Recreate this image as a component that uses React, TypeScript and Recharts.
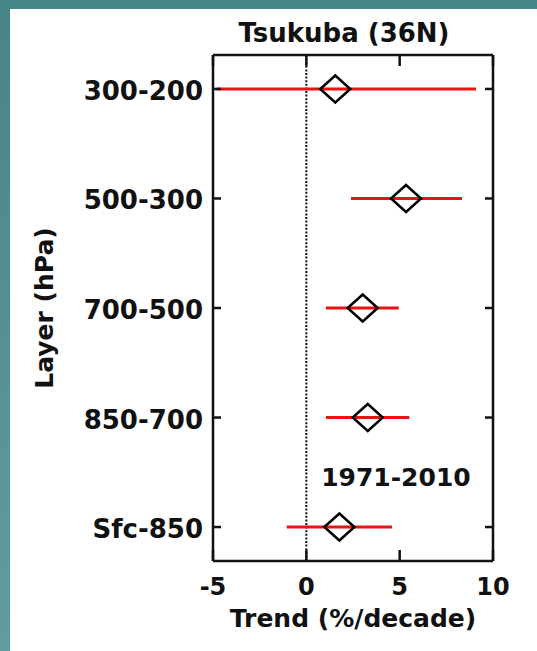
import React from 'react';
import {
  ScatterChart,
  Scatter,
  XAxis,
  YAxis,
  ErrorBar,
  ReferenceLine,
  ReferenceDot,
} from 'recharts';

// layers from top to bottom
const layers = ['300-200', '500-300', '700-500', '850-700', 'Sfc-850'];
const trend = [1.55, 5.34, 3.02, 3.29, 1.77];
const lower = [-4.8, 2.39, 1.05, 1.05, -1.05];
const upper = [9.09, 8.34, 4.95, 5.52, 4.59];
const xTicks = [-5, 0, 5, 10];
const yTicks = [1, 2, 3, 4, 5];

const FONT = '"DejaVu Sans", sans-serif';

const data = layers.map((name, i) => ({
  name,
  y: i + 1,
  x: trend[i],
  err: [trend[i] - lower[i], upper[i] - trend[i]],
}));

const LeftTick = (props: any) => {
  const { x, y, payload } = props;
  return (
    <text x={x} y={y + 11} textAnchor="end" fontSize={26} fontWeight="bold" fontFamily={FONT} fill="#111">
      {layers[payload.value - 1]}
    </text>
  );
};

const BottomTick = (props: any) => {
  const { x, y, payload } = props;
  return (
    <text x={x} y={y + 34} textAnchor="middle" fontSize={24} fontWeight="bold" fontFamily={FONT} fill="#111">
      {payload.value}
    </text>
  );
};

const NoTick = () => <g />;

const Diamond = (props: any) => {
  const { cx, cy } = props;
  const w = 15;
  const h = 13.5;
  return (
    <polygon
      points={`${cx - w},${cy} ${cx},${cy - h} ${cx + w},${cy} ${cx},${cy + h}`}
      fill="none"
      stroke="#000"
      strokeWidth={2.5}
    />
  );
};

const axisLine = { stroke: '#111', strokeWidth: 2.5 };
const tickLine = { stroke: '#111', strokeWidth: 2.5 };

export default function App() {
  return (
    <div
      style={{
        position: 'absolute',
        left: 0,
        top: 0,
        width: 537,
        height: 651,
        background: 'linear-gradient(#468585, #5e9e9e)',
      }}
    >
      <div style={{ position: 'absolute', left: 10, top: 9, right: 0, bottom: 0, background: '#fff' }} />
      <div style={{ position: 'absolute', left: 0, top: 0 }}>
        <ScatterChart width={537} height={651} margin={{ top: 0, right: 0, bottom: 0, left: 0 }}>
          <XAxis
            xAxisId="b"
            type="number"
            dataKey="x"
            domain={[-5, 10]}
            ticks={xTicks}
            allowDataOverflow
            height={90}
            axisLine={axisLine}
            tickLine={tickLine}
            tickSize={-11}
            tickMargin={11}
            tick={<BottomTick />}
            label={{
              content: ({ viewBox }: any) => (
                <text
                  x={viewBox.x + viewBox.width / 2}
                  y={viewBox.y + 66}
                  textAnchor="middle"
                  fontSize={25}
                  fontWeight="bold"
                  fontFamily={FONT}
                  fill="#111"
                >
                  Trend (%/decade)
                </text>
              ),
            }}
          />
          <XAxis
            xAxisId="t"
            orientation="top"
            type="number"
            dataKey="x"
            domain={[-5, 10]}
            ticks={xTicks}
            allowDataOverflow
            height={55}
            axisLine={axisLine}
            tickLine={tickLine}
            tickSize={-11}
            tickMargin={0}
            tick={<NoTick />}
            label={{
              content: ({ viewBox }: any) => (
                <text
                  x={viewBox.x + viewBox.width / 2 - 9}
                  y={42}
                  textAnchor="middle"
                  fontSize={26}
                  fontWeight="bold"
                  fontFamily={FONT}
                  fill="#111"
                >
                  Tsukuba (36N)
                </text>
              ),
            }}
          />
          <YAxis
            yAxisId="l"
            type="number"
            dataKey="y"
            domain={[0.69, 5.31]}
            ticks={yTicks}
            reversed
            allowDataOverflow
            width={213}
            axisLine={axisLine}
            tickLine={tickLine}
            tickSize={-8}
            tickMargin={18}
            tick={<LeftTick />}
            label={{
              content: ({ viewBox }: any) => (
                <text
                  transform={`translate(53, ${viewBox.y + viewBox.height / 2}) rotate(-90)`}
                  textAnchor="middle"
                  fontSize={25}
                  fontWeight="bold"
                  fontFamily={FONT}
                  fill="#111"
                >
                  Layer (hPa)
                </text>
              ),
            }}
          />
          <YAxis
            yAxisId="r"
            orientation="right"
            type="number"
            dataKey="y"
            domain={[0.69, 5.31]}
            ticks={yTicks}
            reversed
            allowDataOverflow
            width={44}
            axisLine={axisLine}
            tickLine={tickLine}
            tickSize={-8}
            tickMargin={0}
            tick={<NoTick />}
          />
          <ReferenceLine
            xAxisId="b"
            yAxisId="l"
            x={0}
            stroke="#111"
            strokeWidth={2}
            strokeDasharray="2 1.6"
          />
          {/* invisible copy so the top/right mirror axes get their ticks */}
          <Scatter
            data={data}
            xAxisId="t"
            yAxisId="r"
            shape={<NoTick />}
            isAnimationActive={false}
          />
          <Scatter
            data={data}
            xAxisId="b"
            yAxisId="l"
            shape={<Diamond />}
            isAnimationActive={false}
          >
            <ErrorBar dataKey="err" direction="x" width={0} stroke="#ee1111" strokeWidth={3} />
          </Scatter>
          <ReferenceDot
            xAxisId="b"
            yAxisId="l"
            x={4.8}
            y={4.54}
            r={0}
            fill="none"
            stroke="none"
            label={{
              content: ({ viewBox }: any) => (
                <text
                  x={viewBox.x + viewBox.width / 2}
                  y={viewBox.y + viewBox.height / 2 + 9}
                  textAnchor="middle"
                  fontSize={25}
                  fontWeight="bold"
                  fontFamily={FONT}
                  fill="#111"
                >
                  1971-2010
                </text>
              ),
            }}
          />
        </ScatterChart>
      </div>
    </div>
  );
}
